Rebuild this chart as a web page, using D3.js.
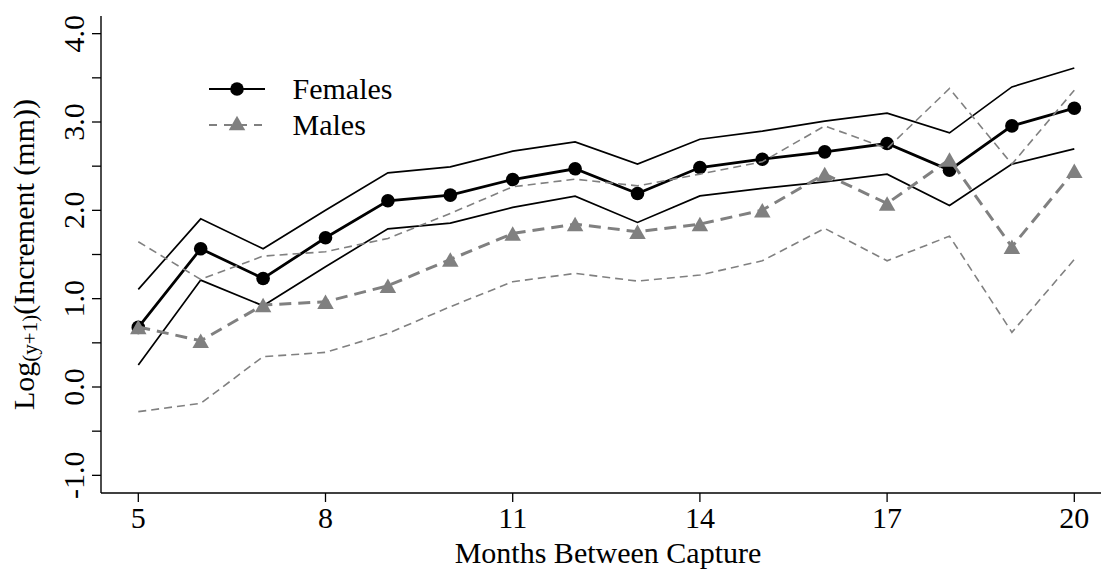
<!DOCTYPE html>
<html>
<head>
<meta charset="utf-8">
<script src="https://cdn.jsdelivr.net/npm/d3@7"></script>
<style>
  html, body { margin: 0; padding: 0; background: #fff; }
  svg { display: block; }
  text { font-family: "Liberation Serif", "Times New Roman", serif; fill: #000; }
</style>
</head>
<body>
<svg id="chart" width="1101" height="569"></svg>
<script>
const months = [5, 6, 7, 8, 9, 10, 11, 12, 13, 14, 15, 16, 17, 18, 19, 20];
const femaleMean  = [0.675, 1.565, 1.229, 1.689, 2.108, 2.172, 2.349, 2.470, 2.191, 2.485, 2.579, 2.662, 2.756, 2.455, 2.956, 3.156];
const femaleUpper = [1.105, 1.904, 1.565, 2.000, 2.424, 2.492, 2.670, 2.775, 2.523, 2.805, 2.896, 3.009, 3.100, 2.877, 3.397, 3.612];
const femaleLower = [0.249, 1.210, 0.920, 1.361, 1.791, 1.855, 2.033, 2.161, 1.863, 2.164, 2.248, 2.323, 2.410, 2.055, 2.523, 2.696];
const maleMean    = [0.680, 0.524, 0.928, 0.965, 1.146, 1.444, 1.738, 1.844, 1.757, 1.844, 2.002, 2.410, 2.078, 2.576, 1.587, 2.447];
const maleUpper   = [1.644, 1.218, 1.482, 1.531, 1.682, 1.965, 2.266, 2.353, 2.277, 2.410, 2.549, 2.956, 2.700, 3.379, 2.523, 3.360];
const maleLower   = [-0.279, -0.185, 0.343, 0.392, 0.607, 0.909, 1.192, 1.286, 1.199, 1.267, 1.429, 1.795, 1.429, 1.708, 0.619, 1.444];
const xTicks = [5, 8, 11, 14, 17, 20];
const yTicks = [-1, -0.5, 0, 0.5, 1, 1.5, 2, 2.5, 3, 3.5, 4];
const yTickLabels = ["-1.0", "0.0", "1.0", "2.0", "3.0", "4.0"];
const xTitle = "Months Between Capture";
const legendLabels = ["Females", "Males"];

const svg = d3.select("#chart");
const x = d3.scaleLinear().domain([5, 20]).range([138.3, 1074.3]);
const y = d3.scaleLinear().domain([-1.2, 4.2]).range([493, 16]);
const FS = 30;

// axes lines
svg.append("line").attr("x1", 101).attr("x2", 101).attr("y1", y(4.2)).attr("y2", y(-1.2))
  .attr("stroke", "#000").attr("stroke-width", 1.4);
svg.append("line").attr("x1", 101).attr("x2", 1101).attr("y1", 493).attr("y2", 493)
  .attr("stroke", "#000").attr("stroke-width", 1.4);

// y ticks
const yAxis = svg.append("g");
yAxis.selectAll("line.t").data(yTicks).enter().append("line")
  .attr("x1", 92).attr("x2", 101).attr("y1", d => y(d)).attr("y2", d => y(d))
  .attr("stroke", "#000").attr("stroke-width", 1.3);
yAxis.selectAll("text").data(yTickLabels).enter().append("text")
  .attr("transform", d => `translate(83.5,${y(+d)}) rotate(-90)`)
  .attr("text-anchor", "middle").attr("font-size", FS).text(d => d);

// x ticks
const xAxis = svg.append("g");
xAxis.selectAll("line").data(xTicks).enter().append("line")
  .attr("x1", d => x(d)).attr("x2", d => x(d)).attr("y1", 493).attr("y2", 502)
  .attr("stroke", "#000").attr("stroke-width", 1.3);
xAxis.selectAll("text").data(xTicks).enter().append("text")
  .attr("x", d => x(d)).attr("y", 527.5).attr("text-anchor", "middle")
  .attr("font-size", FS).text(d => d);

// axis titles
svg.append("text").attr("x", 608).attr("y", 562.5).attr("text-anchor", "middle")
  .attr("font-size", FS).text(xTitle);
const yt = svg.append("text").attr("transform", "translate(33.5,254.5) rotate(-90)")
  .attr("text-anchor", "middle").attr("font-size", FS);
yt.append("tspan").text("Log");
yt.append("tspan").attr("font-size", 21).attr("dy", 3.5).text("(y+1)");
yt.append("tspan").attr("dy", -3.5).text("(Increment (mm))");

const line = d3.line().x((d, i) => x(months[i])).y(d => y(d));
const grey = "#808080";

function drawLine(vals, color, width, dash) {
  svg.append("path").datum(vals).attr("d", line).attr("fill", "none")
    .attr("stroke", color).attr("stroke-width", width)
    .attr("stroke-dasharray", dash || null).attr("stroke-linejoin", "miter");
}
function triPath(cx, cy) {
  const h = 14.5, w = 16.5;
  return `M${cx},${cy - h / 2}L${cx + w / 2},${cy + h / 2}L${cx - w / 2},${cy + h / 2}Z`;
}

// females
drawLine(femaleUpper, "#000", 1.7);
drawLine(femaleLower, "#000", 1.7);
drawLine(femaleMean, "#000", 2.8);
svg.append("g").selectAll("circle").data(femaleMean).enter().append("circle")
  .attr("cx", (d, i) => x(months[i])).attr("cy", d => y(d)).attr("r", 6.8).attr("fill", "#000");

// males
drawLine(maleUpper, grey, 1.6, "8,5");
drawLine(maleLower, grey, 1.6, "8,5");
drawLine(maleMean, grey, 3, "12,7");
svg.append("g").selectAll("path").data(maleMean).enter().append("path")
  .attr("d", (d, i) => triPath(x(months[i]), y(d))).attr("fill", grey);

// legend
const lg = svg.append("g");
lg.append("line").attr("x1", 209).attr("x2", 265).attr("y1", 89).attr("y2", 89)
  .attr("stroke", "#000").attr("stroke-width", 2);
lg.append("circle").attr("cx", 237).attr("cy", 89).attr("r", 6.8).attr("fill", "#000");
lg.append("line").attr("x1", 209).attr("x2", 265).attr("y1", 125).attr("y2", 125)
  .attr("stroke", grey).attr("stroke-width", 2).attr("stroke-dasharray", "8,7");
lg.append("path").attr("d", triPath(237, 123)).attr("fill", grey);
lg.selectAll("text").data(legendLabels).enter().append("text")
  .attr("x", 292.5).attr("y", (d, i) => 99 + i * 36).attr("font-size", FS).text(d => d);
</script>
</body>
</html>
